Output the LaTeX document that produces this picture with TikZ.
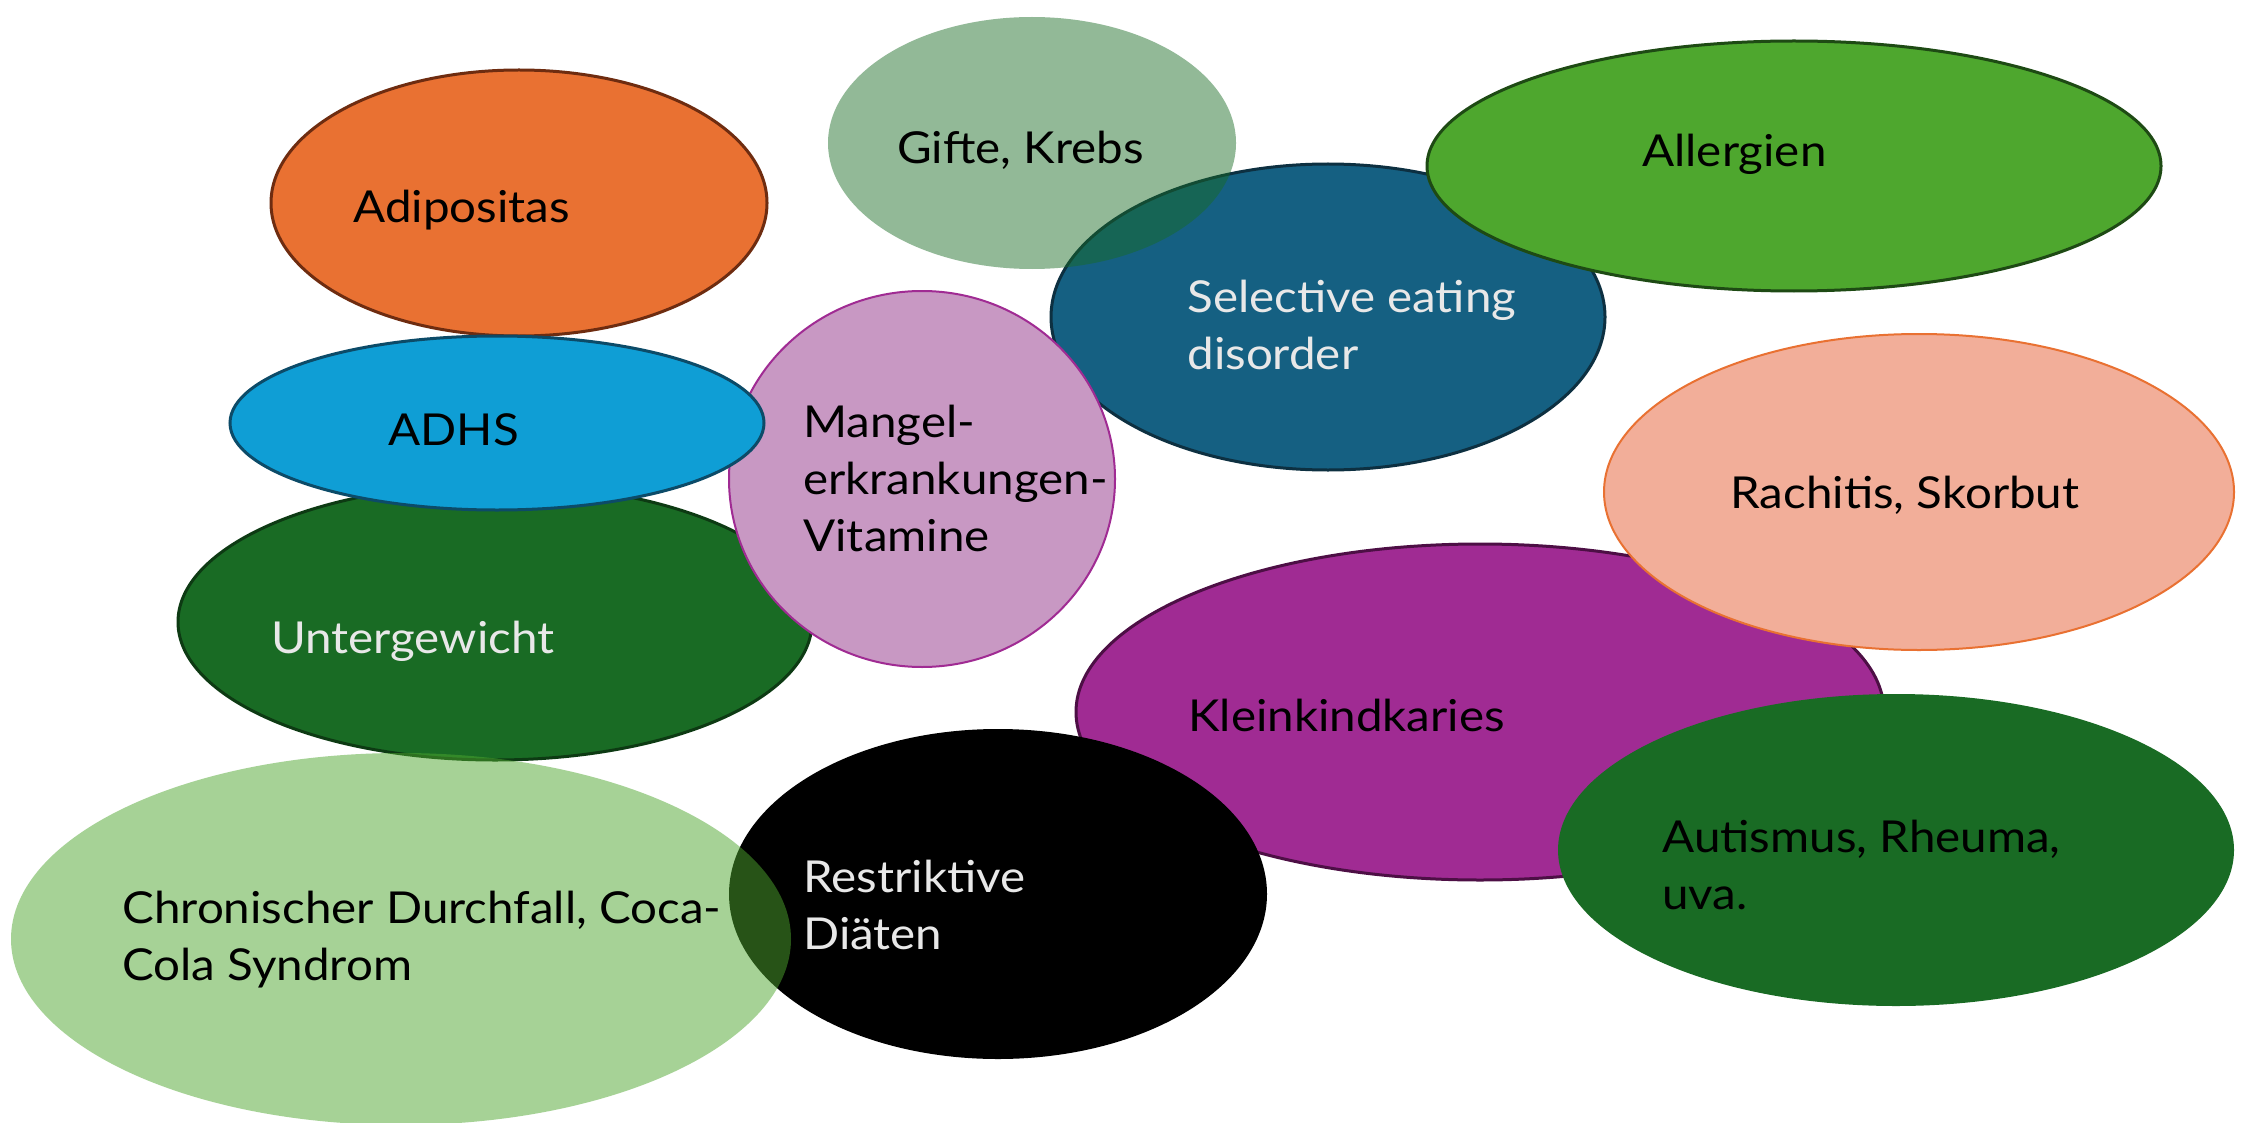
\documentclass[tikz,border=0pt]{standalone}
\usepackage{fontspec}
\setmainfont[FakeStretch=1.08]{Lato}
\usetikzlibrary{shapes.geometric}
\definecolor{cOrange}{HTML}{E97132}
\definecolor{cOrangeB}{HTML}{6E2C10}
\definecolor{cDGreen}{HTML}{196B24}
\definecolor{cDGreenB}{HTML}{0D3A13}
\definecolor{cBlue}{HTML}{0F9ED5}
\definecolor{cBlueB}{HTML}{0C4B68}
\definecolor{cPink}{HTML}{C898C3}
\definecolor{cPurple}{HTML}{A02B93}
\definecolor{cPurpleB}{HTML}{4D0F45}
\definecolor{cTeal}{HTML}{156082}
\definecolor{cTealB}{HTML}{0D3041}
\definecolor{cGreen}{HTML}{4EA72E}
\definecolor{cGreenB}{HTML}{1E4A14}
\definecolor{cSalmon}{HTML}{F2AE99}
\definecolor{cLight}{HTML}{E8E8E8}
\tikzset{
  blob/.style={ellipse, inner sep=0pt, outer sep=0pt, line width=1.5pt},
  lbl/.style={anchor=base west, inner sep=0pt, font=\fontsize{22}{28.5}\selectfont},
  lbldark/.style={lbl, text=black},
  lbllight/.style={lbl, text=cLight}
}
\newcommand{\twolines}[2]{\begin{tabular}[t]{@{}l@{}}#1\\#2\end{tabular}}
\newcommand{\threelines}[3]{\begin{tabular}[t]{@{}l@{}}#1\\#2\\#3\end{tabular}}
\begin{document}
\begin{tikzpicture}[x=0.5pt,y=-0.5pt]
\useasboundingbox[fill=white] (0,0) rectangle (2247,1123);
% shapes (minimum width/height in pt = radius in px)
\node[blob, fill=cOrange, draw=cOrangeB, minimum width=248pt, minimum height=133pt] (adi) at (519,203) {};
\node[blob, fill=cDGreen, draw=cDGreenB, minimum width=317pt, minimum height=138pt] (unter) at (495,622) {};
\node[blob, fill=cTeal, draw=cTealB, minimum width=277pt, minimum height=153pt] (sel) at (1328,317) {};
\node[blob, fill=cPink, draw=cPurple, line width=1pt, minimum width=193pt, minimum height=188pt] (mangel) at (922,479) {};
\node[blob, fill=cBlue, draw=cBlueB, minimum width=267pt, minimum height=87pt] (adhs) at (497,423) {};
\node[blob, fill=cGreen, draw=cGreenB, minimum width=367pt, minimum height=125pt] (aller) at (1794,166) {};
\node[blob, fill=cDGreen, fill opacity=0.47, minimum width=204pt, minimum height=126pt] (gifte) at (1032,143) {};
\node[blob, fill=cPurple, draw=cPurpleB, minimum width=404pt, minimum height=168pt] (klein) at (1480,712) {};
\node[blob, fill=cSalmon, draw=cOrange, line width=1pt, minimum width=315pt, minimum height=158pt] (rach) at (1919,492) {};
\node[blob, fill=cDGreen, minimum width=338pt, minimum height=156pt] (aut) at (1896,850) {};
\node[blob, fill=black, minimum width=269pt, minimum height=165pt] (restr) at (998,894) {};
\node[blob, fill=cGreen, fill opacity=0.5, minimum width=390pt, minimum height=186pt] (chron) at (401,939) {};
% labels
\node[lbldark] (tadi) at (353,223) {Adipositas};
\node[lbldark] (tgifte) at (897,164) {Gifte, Krebs};
\node[lbllight] (tsel) at (1187,312) {\twolines{Selective eating}{disorder}};
\node[lbldark] (taller) at (1642,167) {Allergien};
\node[lbldark] (tadhs) at (388,445) {ADHS};
\node[lbldark] (tmangel) at (803,437) {\threelines{Mangel-}{erkrankungen-}{Vitamine}};
\node[lbllight] (tunter) at (271,653) {Untergewicht};
\node[lbldark] (trach) at (1730,508) {Rachitis, Skorbut};
\node[lbldark] (tklein) at (1188,731) {Kleinkindkaries};
\node[lbldark] (taut) at (1662,852) {\twolines{Autismus, Rheuma,}{uva.}};
\node[lbllight] (trestr) at (803,892) {\twolines{Restriktive}{Diäten}};
\node[lbldark] (tchron) at (122,923) {\twolines{Chronischer Durchfall, Coca-}{Cola Syndrom}};
\end{tikzpicture}
\end{document}
